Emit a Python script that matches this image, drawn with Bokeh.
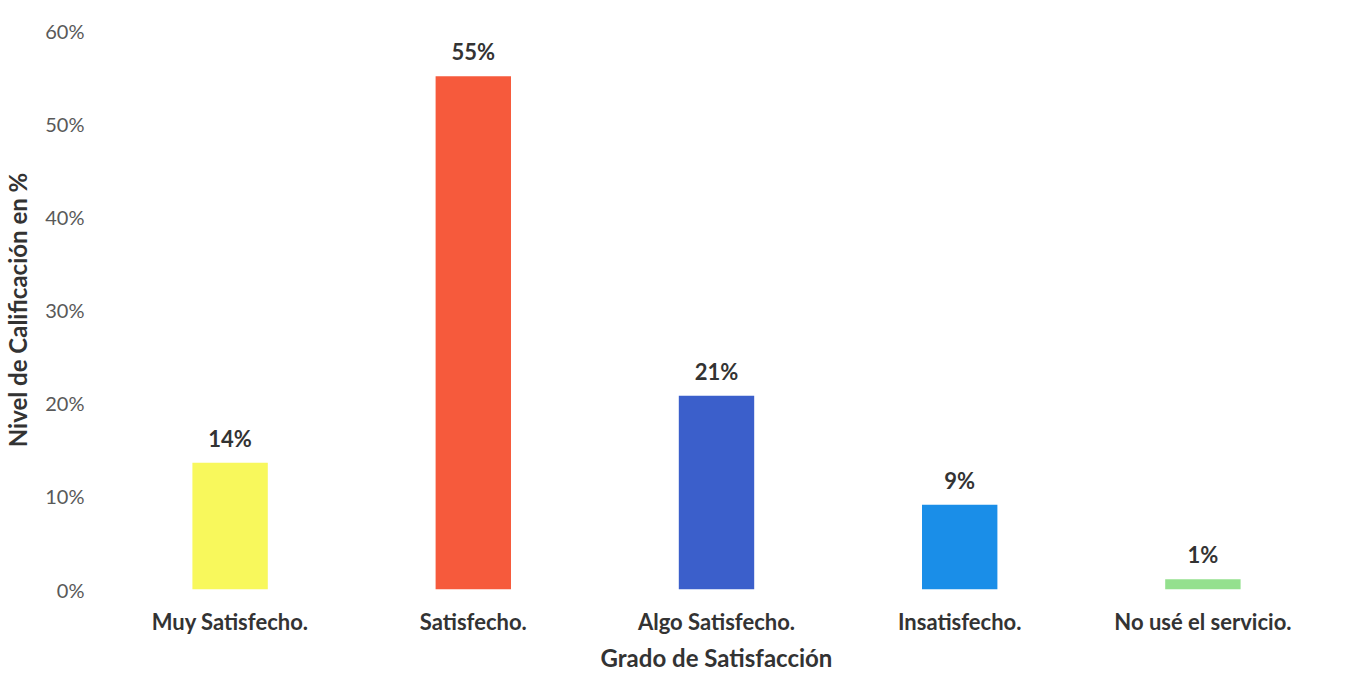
from bokeh.plotting import figure
from bokeh.models import ColumnDataSource, LabelSet, Range1d, FixedTicker, NumeralTickFormatter
from bokeh.core.properties import value
from bokeh.embed import file_html
from bokeh.resources import INLINE

categories = ["Muy Satisfecho.", "Satisfecho.", "Algo Satisfecho.", "Insatisfecho.", "No usé el servicio."]
values = [0.136, 0.551, 0.208, 0.091, 0.011]
colors = ["#F8F85C", "#F65A3C", "#3B5FCB", "#1A8EE8", "#94E08E"]
labels = [f"{round(v * 100)}%" for v in values]
y_ticks = [0, 0.1, 0.2, 0.3, 0.4, 0.5, 0.6]
x_title = "Grado de Satisfacción"
y_title = "Nivel de Calificación en %"

FONT = "Lato"
DARK = "#333333"

source = ColumnDataSource(dict(cat=categories, val=values, color=colors, label=labels))

p = figure(x_range=categories, y_range=Range1d(0, 0.6), width=1340, height=674,
           output_backend="svg", toolbar_location=None,
           min_border_left=106, min_border_right=16, min_border_top=30, min_border_bottom=85)

p.vbar(x="cat", top="val", width=0.31, color="color", source=source, line_color=None)

p.add_layout(LabelSet(x="cat", y="val", text="label", source=source, y_offset=16,
                      text_align="center", text_baseline="alphabetic",
                      text_font=value(FONT), text_font_size="22px", text_font_style="bold",
                      text_color=DARK))

p.outline_line_color = None
p.xgrid.grid_line_color = None
p.ygrid.grid_line_color = None

p.yaxis.ticker = FixedTicker(ticks=y_ticks)
p.yaxis.formatter = NumeralTickFormatter(format="0%")
p.yaxis.axis_line_color = None
p.yaxis.major_tick_line_color = None
p.yaxis.minor_tick_line_color = None
p.yaxis.major_tick_out = 0
p.yaxis.major_label_standoff = 24
p.yaxis.major_label_text_font = FONT
p.yaxis.major_label_text_font_size = "20px"
p.yaxis.major_label_text_color = "#595959"
p.yaxis.axis_label = y_title
p.yaxis.axis_label_text_font = FONT
p.yaxis.axis_label_text_font_size = "24px"
p.yaxis.axis_label_text_font_style = "bold"
p.yaxis.axis_label_text_color = DARK
p.yaxis.axis_label_standoff = 10

p.xaxis.axis_line_color = None
p.xaxis.major_tick_line_color = None
p.xaxis.minor_tick_line_color = None
p.xaxis.major_tick_out = 0
p.xaxis.major_label_standoff = 18
p.xaxis.major_label_text_font = FONT
p.xaxis.major_label_text_font_size = "22px"
p.xaxis.major_label_text_font_style = "bold"
p.xaxis.major_label_text_color = DARK
p.xaxis.axis_label = x_title
p.xaxis.axis_label_text_font = FONT
p.xaxis.axis_label_text_font_size = "24px"
p.xaxis.axis_label_text_font_style = "bold"
p.xaxis.axis_label_text_color = DARK
p.xaxis.axis_label_standoff = 5

open("out.html", "w").write(file_html(p, INLINE))
